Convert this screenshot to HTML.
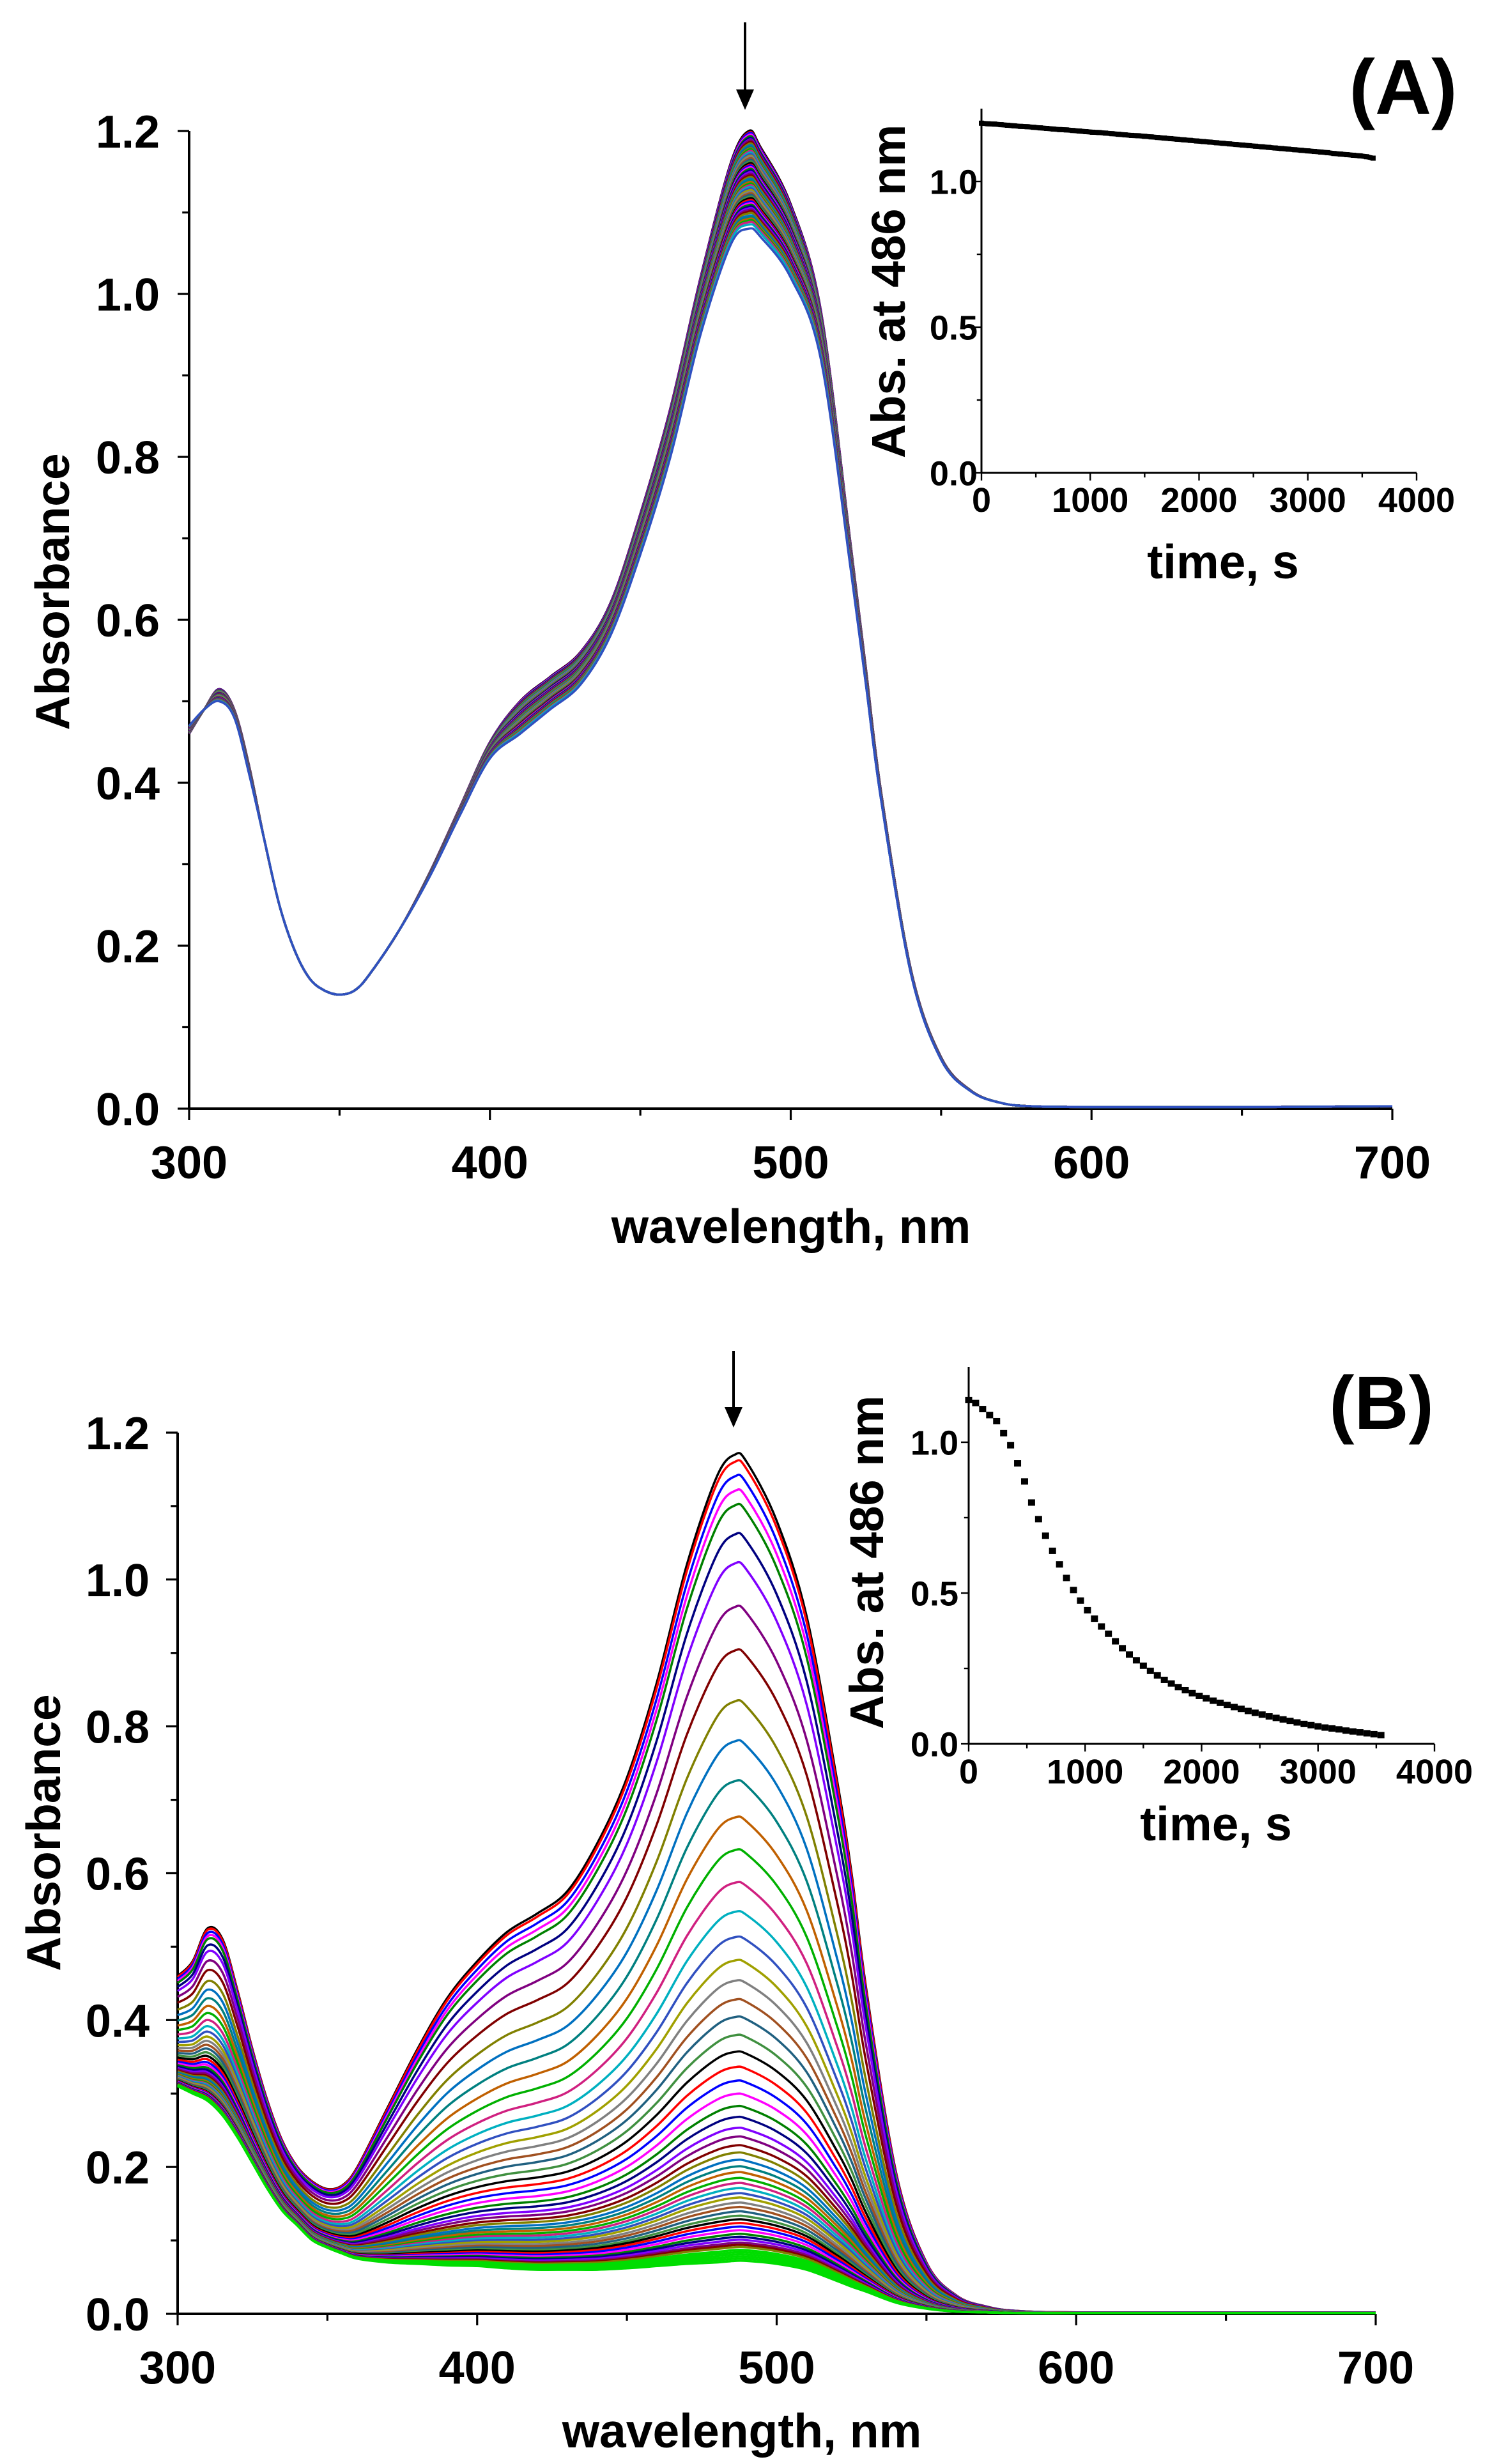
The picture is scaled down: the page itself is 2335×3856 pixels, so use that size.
<!DOCTYPE html>
<html><head><meta charset="utf-8"><style>
html,body{margin:0;padding:0;background:#fff;}
svg{display:block;font-family:"Liberation Sans",Arial,sans-serif;font-weight:bold;}
</style></head><body>
<svg id="fig" width="2335" height="3856" viewBox="0 0 2335 3856" xmlns="http://www.w3.org/2000/svg">
<rect width="2335" height="3856" fill="#fff"/>
<g id="root"></g>
</svg>
<script>
// ---------- DATA ----------
const wl = [300,305,310,315,320,325,330,335,340,345,350,355,360,370,380,390,400,410,420,430,440,450,460,470,480,486,490,500,510,520,525,530,540,550,560,570,580,600,650,700];
const specAInitial = [0.46,0.49,0.515,0.49,0.42,0.33,0.25,0.195,0.16,0.145,0.14,0.145,0.165,0.22,0.29,0.37,0.45,0.50,0.53,0.56,0.62,0.73,0.86,1.02,1.16,1.20,1.18,1.11,0.98,0.69,0.54,0.39,0.17,0.063,0.022,0.007,0.003,0.002,0.002,0.003];
const specAFinal   = [0.47,0.49,0.50,0.48,0.41,0.33,0.25,0.195,0.16,0.145,0.14,0.145,0.165,0.22,0.285,0.36,0.43,0.46,0.49,0.52,0.58,0.68,0.80,0.95,1.06,1.08,1.07,1.02,0.92,0.66,0.52,0.38,0.165,0.06,0.021,0.007,0.003,0.002,0.002,0.003];
const specBInitial = [0.46,0.48,0.525,0.51,0.44,0.36,0.29,0.235,0.20,0.18,0.17,0.175,0.20,0.28,0.36,0.43,0.48,0.52,0.545,0.575,0.64,0.73,0.86,1.02,1.14,1.17,1.16,1.08,0.95,0.73,0.60,0.44,0.19,0.07,0.025,0.01,0.004,0.002,0.002,0.002];
const specBFinal   = [0.31,0.30,0.29,0.27,0.24,0.205,0.17,0.14,0.12,0.10,0.09,0.082,0.075,0.07,0.068,0.066,0.065,0.062,0.06,0.06,0.06,0.062,0.065,0.068,0.07,0.072,0.072,0.068,0.06,0.045,0.037,0.03,0.015,0.007,0.003,0.002,0.001,0.001,0.001,0.001];
const timeA = [0,60,120,180,240,300,360,420,480,540,600,660,720,780,840,900,960,1020,1080,1140,1200,1260,1320,1380,1440,1500,1560,1620,1680,1740,1800,1860,1920,1980,2040,2100,2160,2220,2280,2340,2400,2460,2520,2580,2640,2700,2760,2820,2880,2940,3000,3060,3120,3180,3240,3300,3360,3420,3480,3540,3600];
const absA = [1.200,1.198,1.197,1.195,1.193,1.191,1.189,1.188,1.186,1.184,1.182,1.180,1.178,1.177,1.175,1.173,1.171,1.169,1.168,1.166,1.164,1.162,1.160,1.158,1.157,1.155,1.153,1.151,1.149,1.147,1.145,1.143,1.141,1.139,1.137,1.135,1.133,1.131,1.129,1.127,1.125,1.123,1.121,1.119,1.117,1.115,1.113,1.111,1.109,1.107,1.105,1.103,1.101,1.099,1.096,1.094,1.092,1.090,1.088,1.085,1.080];
const timeB = [0,60,120,180,240,300,360,420,480,540,600,660,720,780,840,900,960,1020,1080,1140,1200,1260,1320,1380,1440,1500,1560,1620,1680,1740,1800,1860,1920,1980,2040,2100,2160,2220,2280,2340,2400,2460,2520,2580,2640,2700,2760,2820,2880,2940,3000,3060,3120,3180,3240,3300,3360,3420,3480,3540];
const absB = [1.14,1.13,1.11,1.09,1.07,1.03,0.99,0.93,0.87,0.80,0.745,0.69,0.64,0.595,0.55,0.51,0.475,0.443,0.415,0.389,0.365,0.34,0.317,0.296,0.277,0.259,0.242,0.227,0.212,0.200,0.188,0.178,0.168,0.159,0.151,0.143,0.136,0.129,0.122,0.116,0.109,0.103,0.097,0.091,0.086,0.081,0.076,0.071,0.066,0.062,0.058,0.054,0.051,0.048,0.044,0.041,0.038,0.035,0.032,0.029];
const xTicksMain = [300,400,500,600,700];
const yTicksMain = ["0.0","0.2","0.4","0.6","0.8","1.0","1.2"];
const xTicksInset = [0,1000,2000,3000,4000];
const yTicksInset = ["0.0","0.5","1.0"];
const palette = ['#000000','#FF0000','#0000FF','#FF00FF','#008000','#000080','#8000FF','#800080','#800000','#808000','#0070C0','#008080','#C06000','#00B000','#D02080','#00B0C0','#3050C0','#A0A000','#808080','#A05020','#206080','#409040'];

// ---------- HELPERS ----------
const NS='http://www.w3.org/2000/svg';
const root=document.getElementById('root');
function el(tag,attrs,parent){const e=document.createElementNS(NS,tag);for(const k in attrs)e.setAttribute(k,attrs[k]);(parent||root).appendChild(e);return e;}
function txt(s,attrs,parent){const e=el('text',attrs,parent);e.textContent=s;return e;}
function smooth(pts){
  let d='M'+pts[0][0].toFixed(1)+','+pts[0][1].toFixed(1);
  for(let i=0;i<pts.length-1;i++){
    const p0=pts[Math.max(0,i-1)],p1=pts[i],p2=pts[i+1],p3=pts[Math.min(pts.length-1,i+2)];
    const c1x=p1[0]+(p2[0]-p0[0])/6,c1y=p1[1]+(p2[1]-p0[1])/6;
    const c2x=p2[0]-(p3[0]-p1[0])/6,c2y=p2[1]-(p3[1]-p1[1])/6;
    d+='C'+c1x.toFixed(1)+','+c1y.toFixed(1)+' '+c2x.toFixed(1)+','+c2y.toFixed(1)+' '+p2[0].toFixed(1)+','+p2[1].toFixed(1);
  }
  return d;
}

function axes(p){
  const g=el('g',{});
  
  
  const X=v=>p.x0+(v-p.xmin)/(p.xmax-p.xmin)*(p.x1-p.x0);
  const Y=v=>p.y0-(v-p.ymin)/(p.ymax-p.ymin)*(p.y0-p.y1);
  el('line',{x1:p.x0,y1:p.y0,x2:p.xEnd,y2:p.y0,stroke:'#000','stroke-width':p.lw},g);
  el('line',{x1:p.x0,y1:p.y0,x2:p.x0,y2:p.yTop,stroke:'#000','stroke-width':p.lw},g);
  for(let v=p.xmin; v<=p.xmax+1e-9; v+=p.xminor){
    const major=Math.abs((v-p.xmin)/p.xmajor-Math.round((v-p.xmin)/p.xmajor))<1e-6;
    el('line',{x1:X(v),y1:p.y0,x2:X(v),y2:p.y0+(major?p.tl:p.tl*0.6),stroke:'#000','stroke-width':p.lw*0.8},g);
  }
  for(let v=p.ymin; v<=p.ymax+1e-9; v+=p.yminor){
    const major=Math.abs((v-p.ymin)/p.ymajor-Math.round((v-p.ymin)/p.ymajor))<1e-6;
    el('line',{x1:p.x0,y1:Y(v),x2:p.x0-(major?p.tl:p.tl*0.6),y2:Y(v),stroke:'#000','stroke-width':p.lw*0.8},g);
  }
  p.xticks.forEach(v=>{const t=txt(String(v),{x:X(+v),y:p.xlabY,'text-anchor':'middle','font-size':p.fs},g);
    
    });
  p.yticks.forEach(v=>{const t=txt(v,{x:p.ylabX,y:Y(+v)+p.fs*0.36,'text-anchor':'end','font-size':p.fs},g);
    
    });
  return {X,Y};
}

function spectra(ax,init,fin,kin,name,fixedColor){
  const g=el('g',{});
  
  
  const k0=kin[0], kN=kin[kin.length-1];
  for(let i=0;i<kin.length;i++){
    const f=(kin[i]-kN)/(k0-kN);
    const pts=wl.map((w,j)=>[ax.X(w),ax.Y(fin[j]+(init[j]-fin[j])*f)]);
    let c=palette[i%palette.length];
    if(fixedColor && i>=kin.length-6) c=fixedColor;
    const pth=el('path',{d:smooth(pts),fill:'none',stroke:c,'stroke-width':3.5,'stroke-linejoin':'round'},g);
    
    
  }
}

// ---------- PANEL A ----------
const axA=axes({name:'panel-a',x0:296,x1:2179,xEnd:2179,y0:1735,y1:205,yTop:205,xmin:300,xmax:700,ymin:0,ymax:1.2,
  xmajor:100,xminor:50,ymajor:0.2,yminor:0.1,tl:18,lw:4,fs:72,xticks:xTicksMain,yticks:yTicksMain,xlabY:1844,ylabX:250});
spectra(axA,specAInitial,specAFinal,absA,'panel-a-spectra');
txt('wavelength, nm',{x:1238,y:1945,'text-anchor':'middle','font-size':75});
txt('Absorbance',{x:0,y:0,'text-anchor':'middle','font-size':75,transform:'translate(108,926) rotate(-90)'});
el('line',{x1:1166,y1:35,x2:1166,y2:150,stroke:'#000','stroke-width':4});
el('path',{d:'M1152,140 L1180,140 L1166,172 Z',fill:'#000'});
txt('(A)',{x:2196,y:178,'text-anchor':'middle','font-size':122});

// inset A
const inA=axes({name:'inset-a',x0:1536,x1:2217,xEnd:2217,y0:740,y1:284,yTop:170,xmin:0,xmax:4000,ymin:0,ymax:1.0,
  xmajor:1000,xminor:500,ymajor:0.5,yminor:0.25,tl:12,lw:3,fs:54,xticks:xTicksInset,yticks:yTicksInset,xlabY:801,ylabX:1530});
{
  const g=el('g',{});
  
  
  let d='';timeA.forEach((t,i)=>{d+=(i?'L':'M')+inA.X(t).toFixed(1)+','+inA.Y(absA[i]).toFixed(1);});
  el('path',{d:d,fill:'none',stroke:'#000','stroke-width':8},g);
  timeA.forEach((t,i)=>{const r=el('rect',{x:inA.X(t)-4,y:inA.Y(absA[i])-4,width:8,height:8,fill:'#000'},g);
    
    });
}
txt('time, s',{x:1914,y:905,'text-anchor':'middle','font-size':75});
txt('Abs. at 486 nm',{x:0,y:0,'text-anchor':'middle','font-size':74,transform:'translate(1416,456) rotate(-90)'});

// ---------- PANEL B ----------
const axB=axes({name:'panel-b',x0:278,x1:2153,xEnd:2153,y0:3621,y1:2242,yTop:2242,xmin:300,xmax:700,ymin:0,ymax:1.2,
  xmajor:100,xminor:50,ymajor:0.2,yminor:0.1,tl:18,lw:4,fs:72,xticks:xTicksMain,yticks:yTicksMain,xlabY:3730,ylabX:234});
spectra(axB,specBInitial,specBFinal,absB,'panel-b-spectra','#00DD00');
txt('wavelength, nm',{x:1161,y:3830,'text-anchor':'middle','font-size':75});
txt('Absorbance',{x:0,y:0,'text-anchor':'middle','font-size':75,transform:'translate(94,2868) rotate(-90)'});
el('line',{x1:1148,y1:2114,x2:1148,y2:2212,stroke:'#000','stroke-width':4});
el('path',{d:'M1134,2202 L1162,2202 L1148,2234 Z',fill:'#000'});
txt('(B)',{x:2162,y:2236,'text-anchor':'middle','font-size':118});

// inset B
const inB=axes({name:'inset-b',x0:1516,x1:2245,xEnd:2245,y0:2729,y1:2257,yTop:2139,xmin:0,xmax:4000,ymin:0,ymax:1.0,
  xmajor:1000,xminor:500,ymajor:0.5,yminor:0.25,tl:12,lw:3,fs:54,xticks:xTicksInset,yticks:yTicksInset,xlabY:2791,ylabX:1500});
{
  const g=el('g',{});
  
  
  timeB.forEach((t,i)=>{const r=el('rect',{x:inB.X(t)-5.5,y:inB.Y(absB[i])-5,width:11,height:10,fill:'#000'},g);
    
    });
}
txt('time, s',{x:1903,y:2880,'text-anchor':'middle','font-size':75});
txt('Abs. at 486 nm',{x:0,y:0,'text-anchor':'middle','font-size':74,transform:'translate(1382,2445) rotate(-90)'});
</script>
</body></html>
